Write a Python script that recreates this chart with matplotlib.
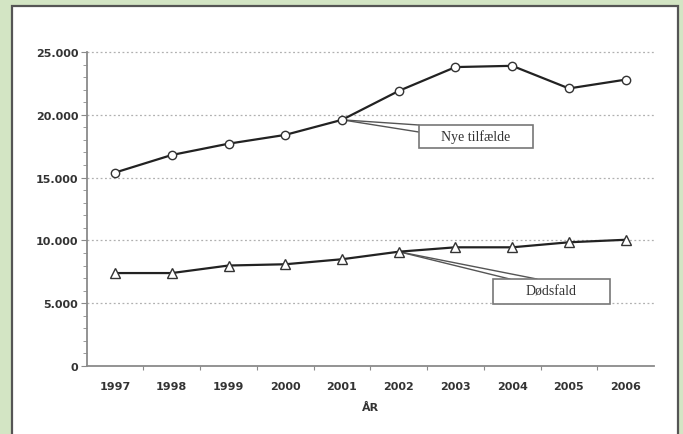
import matplotlib.pyplot as plt
from matplotlib.patches import Rectangle
from matplotlib.ticker import MultipleLocator, FuncFormatter

years = ['1997', '1998', '1999', '2000', '2001', '2002', '2003', '2004', '2005', '2006']
nye_tilfaelde = [15400, 16800, 17700, 18400, 19600, 21900, 23800, 23900, 22100, 22800]
doedsfald = [7400, 7400, 8000, 8100, 8500, 9100, 9450, 9450, 9850, 10050]

W, H = 683, 435
fig = plt.figure(figsize=(W / 100, H / 100), dpi=100)
fig.patch.set_facecolor('#d3e5c4')

# white panel with a dark frame, behind the axes
panel = Rectangle((12 / W, -0.05), (678 - 12) / W, 1.05 - 7 / H,
                  transform=fig.transFigure, facecolor='white',
                  edgecolor='#555555', lw=1.6, zorder=-10)
fig.patches.append(panel)

ax = fig.add_axes([86.7 / W, (H - 367) / H, (654 - 86.7) / W, (367 - 53) / H])
ax.set_facecolor('none')
ax.set_zorder(1)

x = list(range(len(years)))
ax.plot(x, nye_tilfaelde, color='#222222', lw=1.6, marker='o', ms=6,
        mfc='white', mec='#333333', mew=1.0, zorder=3, clip_on=False)
ax.plot(x, doedsfald, color='#222222', lw=1.6, marker='^', ms=7,
        mfc='white', mec='#333333', mew=1.0, zorder=3, clip_on=False)

ax.set_xlim(-0.5, len(years) - 0.5)
ax.set_ylim(0, 25000)

ax.yaxis.set_major_locator(MultipleLocator(5000))
ax.yaxis.set_minor_locator(MultipleLocator(1000))
ax.yaxis.set_major_formatter(FuncFormatter(lambda v, p: f'{int(v):,}'.replace(',', '.')))
ax.set_xticks([i + 0.5 for i in x[:-1]])
ax.set_xticklabels([])
ax.set_xticks(x, minor=True)
ax.set_xticklabels(years, minor=True)

for v in range(5000, 25001, 5000):
    ax.axhline(v, color='#b0b0b0', lw=0.9, ls=(0, (1.5, 2)), zorder=1, clip_on=False)

for s in ['top', 'right']:
    ax.spines[s].set_visible(False)
for s in ['left', 'bottom']:
    ax.spines[s].set_color('#8a8a8a')
    ax.spines[s].set_linewidth(1.3)

ax.tick_params(axis='y', which='major', direction='out', length=4, color='#8a8a8a',
               labelsize=8, labelcolor='#333333', pad=2)
ax.tick_params(axis='y', which='minor', direction='out', length=3, color='#8a8a8a')
ax.tick_params(axis='x', which='major', direction='out', length=3, color='#8a8a8a')
ax.tick_params(axis='x', which='minor', length=0, labelsize=8, labelcolor='#333333', pad=11)
for lab in ax.get_yticklabels() + ax.get_xticklabels(minor=True):
    lab.set_fontweight('bold')

ax.set_xlabel('ÅR', fontsize=8, color='#333333', fontweight='bold', labelpad=8)


def px_to_data(px, py):
    return (px - 115.5) / 56.7, (367 - py) / 12.56 * 1000


def callout(text, anchor, ends, box):
    # box given as (left, top, right, bottom) in pixels
    for ex, ey in ends:
        dx, dy = px_to_data(ex, ey)
        ax.plot([anchor[0], dx], [anchor[1], dy], color='#555555', lw=1.0,
                zorder=2, clip_on=False)
    x0, y0 = px_to_data(box[0], box[3])
    x1, y1 = px_to_data(box[2], box[1])
    ax.add_patch(Rectangle((x0, y0), x1 - x0, y1 - y0, fc='white', ec='#777777',
                           lw=1.2, zorder=4, clip_on=False))
    ax.text((x0 + x1) / 2, (y0 + y1) / 2, text, ha='center', va='center',
            fontsize=10, family='Liberation Serif', color='#333333', zorder=5)


callout('Nye tilfælde', (4, nye_tilfaelde[4]), [(419, 126), (419, 133)], (419, 126, 533, 149))
callout('Dødsfald', (5, doedsfald[5]), [(510, 280), (537, 280)], (493, 280, 610, 305))

fig.savefig('out.png', dpi=100, facecolor=fig.get_facecolor())
